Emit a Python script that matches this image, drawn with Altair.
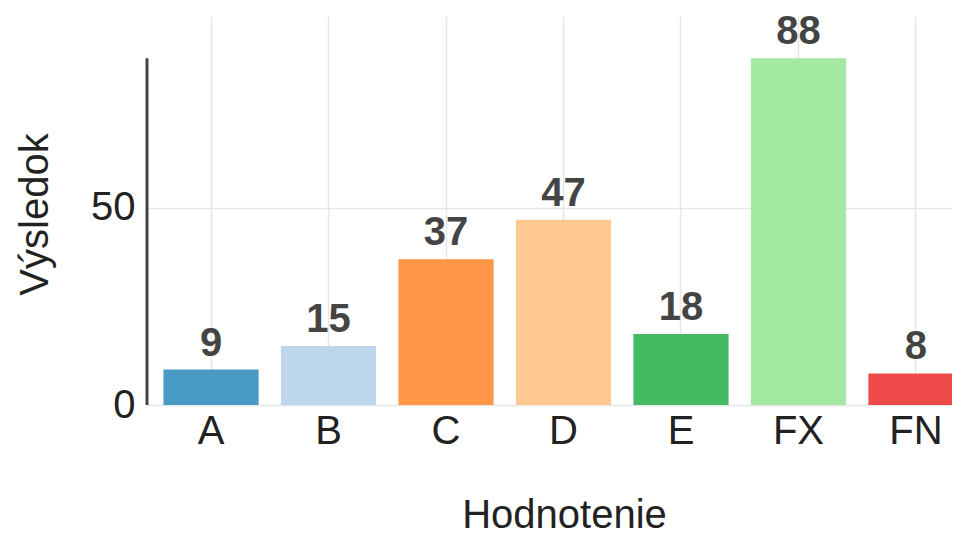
import altair as alt
import pandas as pd

categories = ["A", "B", "C", "D", "E", "FX", "FN"]
values = [9, 15, 37, 47, 18, 88, 8]
y_ticks = [0, 50]
y_max = 98.7
bar_colors = ["#3f95c2", "#bbd4eb", "#ff903e", "#ffc58a", "#38b75a", "#9ee89c", "#ee4141"]

df = pd.DataFrame({"grade": categories, "score": values})

FONT = "Liberation Sans"

x_scale = alt.Scale(range=[0, 833], paddingInner=0.19, paddingOuter=0.14)
x_axis = alt.Axis(
    title="Hodnotenie",
    labelAngle=0,
    labelFontSize=40,
    labelFont=FONT,
    labelColor="#222",
    labelPadding=6,
    ticks=False,
    domain=False,
    grid=True,
    gridColor="#e6e6e6",
    gridWidth=1.5,
    bandPosition=0.5,
    titleFontSize=40,
    titleFont=FONT,
    titleFontWeight="normal",
    titleColor="#222",
    titleX=417,
    titleY=122,
    titleAlign="center",
    titleBaseline="alphabetic",
)

y_scale = alt.Scale(domain=[0, y_max], nice=False, zero=True)
y_axis = alt.Axis(
    title="Výsledok",
    values=y_ticks,
    labelFontSize=40,
    labelFont=FONT,
    labelColor="#222",
    labelPadding=12,
    ticks=False,
    domain=False,
    grid=True,
    gridColor="#e6e6e6",
    gridWidth=1.5,
    titleFontSize=40,
    titleFont=FONT,
    titleFontWeight="normal",
    titleColor="#222",
    titleAngle=270,
    titleX=-100,
    titleY=198,
    titleAlign="center",
    titleBaseline="alphabetic",
)

x_enc = alt.X("grade:N", sort=categories, scale=x_scale, axis=x_axis)
y_enc = alt.Y("score:Q", scale=y_scale, axis=y_axis)

bars = alt.Chart(df).mark_bar(opacity=0.95).encode(
    x=x_enc,
    y=y_enc,
    color=alt.Color("grade:N", sort=categories,
                    scale=alt.Scale(domain=categories, range=bar_colors), legend=None),
)

labels = alt.Chart(df).mark_text(
    font=FONT, fontSize=40, fontWeight="bold", color="#444",
    baseline="alphabetic", align="center", dy=-14,
).encode(
    x=x_enc,
    y=y_enc,
    text=alt.Text("score:Q"),
)

axis_line = alt.Chart(df).transform_aggregate(
    score="max(score)"
).mark_rule(color="#444", strokeWidth=3).encode(
    x=alt.value(0),
    y=y_enc,
    y2=alt.datum(0),
)

chart = alt.layer(bars, axis_line, labels).properties(
    width=805,
    height=389,
    autosize=alt.AutoSizeParams(type="none"),
    padding={"left": 139, "top": 8, "right": 0, "bottom": 131},
).configure(background="white").configure_view(stroke=None)

chart.save("out.html", embed_options={"renderer": "svg", "actions": False})
